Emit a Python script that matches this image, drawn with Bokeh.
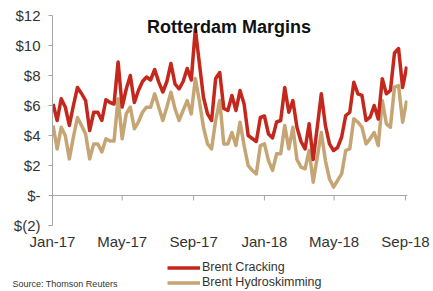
import datetime as dt
from bokeh.plotting import figure
from bokeh.layouts import column
from bokeh.models import (FixedTicker, Span, Label, Legend, LegendItem,
                          ColumnDataSource, Range1d)
from bokeh.embed import file_html
from bokeh.resources import INLINE

# ---- data (weekly) ----
first_week = dt.datetime(2017, 1, 2)
brent_cracking = [
    6.1, 5.0, 6.45, 5.9, 4.67, 6.0, 7.2, 6.8, 6.33, 4.33,
    5.55, 5.55, 5.0, 6.38, 6.2, 6.1, 8.9, 5.9, 7.1, 8.0,
    6.2, 7.0, 7.6, 7.9, 7.7, 8.4, 7.56, 6.9, 7.6, 8.8,
    7.44, 7.1, 7.6, 8.47, 7.7, 11.1, 8.8, 6.55, 5.44, 5.0,
    7.8, 8.2, 5.8, 5.67, 6.67, 5.67, 7.0, 6.1, 4.0, 3.8,
    3.6, 5.2, 5.3, 4.1, 3.84, 4.9, 5.0, 7.2, 5.55, 6.33,
    4.55, 3.6, 3.1, 4.78, 2.4, 4.55, 6.78, 4.67, 3.44, 3.0,
    3.2, 3.9, 5.33, 5.55, 7.55, 6.78, 6.67, 5.0, 5.22, 6.0,
    5.1, 7.78, 6.78, 7.0, 9.5, 9.8, 7.2, 8.6,
]
brent_hydroskimming = [
    4.67, 3.1, 4.55, 4.0, 2.44, 3.9, 5.2, 4.67, 4.1, 2.44,
    3.44, 3.44, 2.9, 3.78, 3.63, 3.63, 6.45, 3.78, 5.45, 5.9,
    4.45, 4.9, 5.55, 5.89, 5.89, 6.78, 5.89, 5.0, 5.9, 6.89,
    5.78, 5.0, 5.67, 6.33, 5.44, 7.8, 6.3, 4.55, 3.44, 3.11,
    5.0, 6.33, 3.44, 3.44, 4.2, 3.33, 4.89, 3.33, 2.0, 1.67,
    1.44, 3.33, 3.44, 2.33, 1.67, 2.78, 2.78, 4.67, 3.11, 4.55,
    2.4, 1.89, 1.78, 3.0, 0.89, 2.56, 4.2, 2.33, 1.11, 0.56,
    1.0, 1.44, 3.0, 3.11, 5.11, 4.89, 4.55, 3.44, 3.78, 4.2,
    3.33, 6.33, 4.78, 4.55, 7.22, 7.33, 4.89, 6.33,
]
dates = [first_week + dt.timedelta(weeks=i) for i in range(len(brent_cracking))]

y_tick_values = [-2, 0, 2, 4, 6, 8, 10, 12]
y_tick_labels = ["$(2)", "$-", "$2", "$4", "$6", "$8", "$10", "$12"]
x_tick_dates = [dt.datetime(2017, 1, 1), dt.datetime(2017, 5, 1), dt.datetime(2017, 9, 1),
                dt.datetime(2018, 1, 1), dt.datetime(2018, 5, 1), dt.datetime(2018, 9, 1)]
x_tick_labels = ["Jan-17", "May-17", "Sep-17", "Jan-18", "May-18", "Sep-18"]
series_names = ["Brent Cracking", "Brent Hydroskimming"]
chart_title = "Rotterdam Margins"
source_note = "Source: Thomson Reuters"

RED = "#c4281d"
TAN = "#c6a575"
AXIS_GREY = "#a6a6a6"
TEXT = "#333333"
FONT = "Liberation Sans"

epoch = dt.datetime(1970, 1, 1)
def ms(d):
    return (d - epoch).total_seconds() * 1000.0

x_tick_ms = [ms(d) for d in x_tick_dates]
y_min, y_max = min(y_tick_values), max(y_tick_values)

src = ColumnDataSource(dict(date=dates, crack=brent_cracking, hydro=brent_hydroskimming))

# ---------------- main chart ----------------
p = figure(width=432, height=252, x_axis_type="datetime",
           output_backend="svg", toolbar_location=None,
           x_range=Range1d(ms(dt.datetime(2017, 1, 1)), ms(dt.datetime(2018, 9, 4, 10))),
           y_range=Range1d(y_min, y_max + 10 / 15),
           min_border_left=52, min_border_right=25, min_border_top=5, min_border_bottom=27)
p.frame_align = False
p.outline_line_color = None
p.grid.visible = False
p.background_fill_color = "white"
p.border_fill_color = "white"

ya = p.yaxis[0]
ya.ticker = FixedTicker(ticks=y_tick_values)
ya.bounds = (y_min, y_max)
ya.major_label_overrides = {v: l for v, l in zip(y_tick_values, y_tick_labels)}
ya.axis_line_color = AXIS_GREY
ya.major_tick_line_color = AXIS_GREY
ya.minor_tick_line_color = None
ya.major_tick_in = 0
ya.major_tick_out = 4
ya.major_label_standoff = 8
ya.major_label_text_font = FONT
ya.major_label_text_font_size = "15px"
ya.major_label_text_color = TEXT

xa = p.xaxis[0]
xa.ticker = FixedTicker(ticks=x_tick_ms)
xa.major_label_overrides = {v: l for v, l in zip(x_tick_ms, x_tick_labels)}
xa.axis_line_color = None
xa.major_tick_line_color = None
xa.minor_tick_line_color = None
xa.major_tick_in = 0
xa.major_tick_out = 0
xa.major_label_standoff = 7
xa.major_label_text_font = FONT
xa.major_label_text_font_size = "15px"
xa.major_label_text_color = TEXT

# zero line with downward ticks
p.add_layout(Span(location=0, dimension="width", line_color=AXIS_GREY, line_width=1))
p.segment(x0=x_tick_dates, y0=[0] * len(x_tick_dates), x1=x_tick_dates,
          y1=[-0.33] * len(x_tick_dates), line_color=AXIS_GREY, line_width=1)

p.line("date", "hydro", source=src, line_color=TAN, line_width=3.5, line_join="round")
p.line("date", "crack", source=src, line_color=RED, line_width=3.5, line_join="round")

p.add_layout(Label(x=ms(dt.datetime(2017, 11, 1)), y=y_max - 11 / 15, text=chart_title,
                   text_align="center", text_baseline="alphabetic",
                   text_font=FONT, text_font_style="bold",
                   text_font_size="18px", text_color="#111111"))

# ---------------- footer: legend + source ----------------
f = figure(width=432, height=38, output_backend="svg", toolbar_location=None,
           x_axis_location=None, y_axis_location=None,
           x_range=Range1d(0, 1), y_range=Range1d(0, 1),
           min_border_left=0, min_border_right=0, min_border_top=0, min_border_bottom=0)
f.frame_align = False
f.outline_line_color = None
f.grid.visible = False
f.background_fill_color = "white"
f.border_fill_color = "white"

# same series, drawn outside this strip's ranges: used only for the legend keys
lr_c = f.line("date", "crack", source=src, line_color=RED, line_width=3.5)
lr_h = f.line("date", "hydro", source=src, line_color=TAN, line_width=3.5)

legend = Legend(items=[LegendItem(label=series_names[0], renderers=[lr_c]),
                       LegendItem(label=series_names[1], renderers=[lr_h])],
                location=(167, 0.5), orientation="vertical",
                border_line_color=None, background_fill_alpha=0,
                padding=0, margin=0, spacing=0,
                glyph_width=33, glyph_height=15, label_height=15,
                label_standoff=2, label_text_font=FONT,
                label_text_font_size="12.5px", label_text_color=TEXT)
f.add_layout(legend)

f.add_layout(Label(x=12, y=6.5, x_units="screen", y_units="screen",
                   text=source_note, text_baseline="alphabetic",
                   text_font=FONT, text_font_size="9px",
                   text_color=TEXT))

layout = column(p, f, spacing=0)
open("out.html", "w").write(file_html(layout, INLINE))
